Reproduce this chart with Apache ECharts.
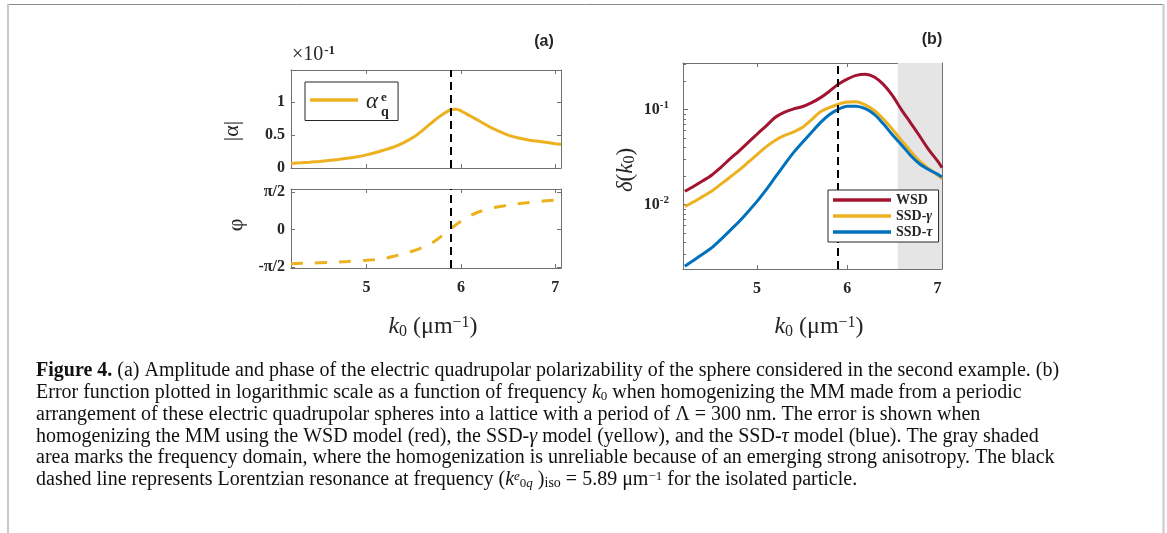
<!DOCTYPE html>
<html>
<head>
<meta charset="utf-8">
<script src="https://cdn.jsdelivr.net/npm/echarts@6/dist/echarts.min.js"></script>
<style>
html,body{margin:0;padding:0;background:#fff;}
#chart{width:1167px;height:533px;}
</style>
</head>
<body>
<div id="chart"></div>
<script>
// ---------- DATA ----------
// Panel (a): amplitude |alpha| (units of 1e-1) vs k0
const alphaK = [4.2,4.3,4.4,4.5,4.6,4.7,4.8,4.9,5.0,5.1,5.2,5.3,5.4,5.5,5.6,5.7,5.8,5.9,5.95,6.0,6.1,6.2,6.3,6.4,6.5,6.6,6.7,6.8,6.9,7.0,7.06];
const alphaAbs = [0.07,0.078,0.088,0.10,0.115,0.13,0.148,0.17,0.20,0.235,0.28,0.325,0.39,0.47,0.58,0.70,0.81,0.89,0.895,0.87,0.79,0.71,0.63,0.56,0.50,0.46,0.43,0.41,0.39,0.37,0.36];
// Panel (a): phase (rad) vs k0
const phaseK = [4.2,4.4,4.6,4.8,5.0,5.1,5.2,5.3,5.4,5.5,5.6,5.7,5.8,5.9,6.0,6.1,6.2,6.3,6.4,6.5,6.6,6.7,6.8,6.9,7.0,7.06];
const phase = [-1.437,-1.414,-1.382,-1.346,-1.296,-1.264,-1.210,-1.115,-1.013,-0.895,-0.746,-0.550,-0.267,0.055,0.346,0.581,0.754,0.880,0.958,1.021,1.076,1.123,1.162,1.202,1.233,1.249];
// Panel (b): error delta(k0)
const errK = [4.2,4.3,4.4,4.5,4.6,4.7,4.8,4.9,5.0,5.1,5.2,5.3,5.4,5.5,5.6,5.7,5.8,5.9,6.0,6.1,6.2,6.3,6.4,6.5,6.6,6.7,6.8,6.9,7.0,7.05];
const wsd = [0.0138,0.0156,0.0178,0.0205,0.0247,0.0302,0.0366,0.0449,0.055,0.0671,0.0824,0.0933,0.101,0.107,0.1175,0.1327,0.155,0.1845,0.209,0.229,0.2355,0.22,0.184,0.141,0.100,0.073,0.053,0.0382,0.0288,0.0245];
const ssdGamma = [0.00955,0.0107,0.0122,0.0139,0.0164,0.0194,0.023,0.0278,0.0335,0.0405,0.0473,0.0531,0.0578,0.0646,0.0776,0.0944,0.1047,0.1138,0.120,0.121,0.112,0.0977,0.0794,0.0621,0.0475,0.0367,0.0288,0.024,0.0204,0.0188];
const ssdTau = [0.00224,0.0026,0.00302,0.00352,0.0043,0.00533,0.0066,0.0084,0.0108,0.0143,0.0193,0.026,0.0348,0.0447,0.0569,0.0724,0.0881,0.1007,0.1084,0.1084,0.102,0.0891,0.0708,0.0543,0.0427,0.0331,0.0269,0.0234,0.0209,0.0195];
const seriesNames = ['WSD','SSD-γ','SSD-τ'];
const resonanceK = 5.89;
const unreliableStart = 6.56;
const xTicks = [5,6,7];
const alphaTicks = [0,0.5,1];
const phaseTicks = [-Math.PI/2, 0, Math.PI/2];
const logTicks = [0.01, 0.1];
const logMinorTicks = [0.003,0.004,0.005,0.006,0.007,0.008,0.009,0.02,0.03,0.04,0.05,0.06,0.07,0.08,0.09,0.2,0.3];

// ---------- STYLE ----------
const SERIF = 'Liberation Serif';
const AX = '#707070';
const TXT = '#262626';
const YEL = '#EDB120', RED = '#A2142F', BLU = '#0072BD';

const chart = echarts.init(document.getElementById('chart'), null, {renderer:'canvas'});

function xAxis(grid, min, max, pos, labels) {
  return {
    type:'value', gridIndex:grid, min:min, max:max, position:pos,
    axisLine:{show:true, onZero:false, lineStyle:{color:AX, width:1}},
    axisTick:{show:true, inside:true, length:4, customValues:xTicks, lineStyle:{color:AX}},
    axisLabel:{show:labels, customValues:xTicks, margin:12, color:TXT, fontFamily:SERIF, fontWeight:'bold', fontSize:16},
    splitLine:{show:false}
  };
}
const tickLbl = {color:TXT, fontFamily:SERIF, fontWeight:'bold', fontSize:16};

const option = {
  animation:false,
  backgroundColor:'#fff',
  grid:[
    {left:291, top:70, width:270, height:98},
    {left:291, top:189, width:270, height:79},
    {left:683, top:63, width:259, height:206}
  ],
  xAxis:[
    xAxis(0, 4.2, 7.06, 'bottom', false),
    xAxis(0, 4.2, 7.06, 'top', false),
    xAxis(1, 4.2, 7.06, 'bottom', true),
    xAxis(1, 4.2, 7.06, 'top', false),
    xAxis(2, 4.18, 7.05, 'bottom', true),
    xAxis(2, 4.18, 7.05, 'top', false)
  ],
  yAxis:[
    {type:'value', gridIndex:0, min:0, max:1.49, position:'left',
     axisLine:{show:true, lineStyle:{color:AX}},
     axisTick:{show:true, inside:true, length:4, customValues:alphaTicks, lineStyle:{color:AX}},
     axisLabel:Object.assign({customValues:alphaTicks, margin:6, formatter:v=>String(v)}, tickLbl),
     splitLine:{show:false}},
    {type:'value', gridIndex:0, min:0, max:1.49, position:'right',
     axisLine:{show:true, lineStyle:{color:AX}},
     axisTick:{show:true, inside:true, length:4, customValues:alphaTicks, lineStyle:{color:AX}},
     axisLabel:{show:false}, splitLine:{show:false}},
    {type:'value', gridIndex:1, min:-1.62, max:1.70, position:'left',
     axisLine:{show:true, lineStyle:{color:AX}},
     axisTick:{show:true, inside:true, length:4, customValues:phaseTicks, lineStyle:{color:AX}},
     axisLabel:Object.assign({customValues:phaseTicks, margin:6,
       formatter:v=> Math.abs(v)<1e-9 ? '0' : (v>0 ? 'π/2' : '-π/2')}, tickLbl),
     splitLine:{show:false}},
    {type:'value', gridIndex:1, min:-1.62, max:1.70, position:'right',
     axisLine:{show:true, lineStyle:{color:AX}},
     axisTick:{show:true, inside:true, length:4, customValues:phaseTicks, lineStyle:{color:AX}},
     axisLabel:{show:false}, splitLine:{show:false}},
    {type:'log', logBase:10, gridIndex:2, min:0.0021, max:0.309, position:'left',
     axisLine:{show:true, lineStyle:{color:AX}},
     axisTick:{show:true, inside:true, length:5, customValues:logTicks, lineStyle:{color:AX}},
     axisLabel:Object.assign({customValues:logTicks, margin:14,
       formatter:v=> '10{s|' + Math.round(Math.log10(v)) + '}',
       rich:{s:{fontFamily:SERIF, fontWeight:'bold', fontSize:11, color:TXT, verticalAlign:'top', padding:[0,0,8,0]}}}, tickLbl),
     splitLine:{show:false}},
    {type:'log', logBase:10, gridIndex:2, min:0.0021, max:0.309, position:'right',
     axisLine:{show:true, lineStyle:{color:AX}},
     axisTick:{show:true, inside:true, length:5, customValues:logTicks, lineStyle:{color:AX}},
     axisLabel:{show:false}, splitLine:{show:false}},
    {type:'log', logBase:10, gridIndex:2, min:0.0021, max:0.309, position:'left',
     axisLine:{show:false},
     axisTick:{show:true, inside:true, length:3, customValues:logMinorTicks, lineStyle:{color:AX}},
     axisLabel:{show:false}, splitLine:{show:false}},
    {type:'log', logBase:10, gridIndex:2, min:0.0021, max:0.309, position:'right',
     axisLine:{show:false},
     axisTick:{show:true, inside:true, length:3, customValues:logMinorTicks, lineStyle:{color:AX}},
     axisLabel:{show:false}, splitLine:{show:false}}
  ],
  legend:[
    {data:seriesNames, orient:'vertical', left:828, top:190, icon:'rect', itemWidth:58, itemHeight:3.5, itemGap:2,
     padding:[3,6,3,5], borderColor:'#262626', borderWidth:1, backgroundColor:'#fff', borderRadius:0,
     textStyle:{fontFamily:SERIF, fontWeight:'bold', fontSize:14, color:TXT, lineHeight:14,
       rich:{g:{fontFamily:SERIF, fontWeight:'bold', fontStyle:'italic', fontSize:14, lineHeight:14, color:TXT}}},
     formatter:n=> n==='WSD' ? 'WSD' : 'SSD-{g|' + n.slice(4) + '}',
     selectedMode:false, z:10},
    {data:['α'], orient:'vertical', left:305, top:82, icon:'rect', itemWidth:48, itemHeight:3.5,
     padding:[7,20,7,5], borderColor:'#262626', borderWidth:1, backgroundColor:'#fff', borderRadius:0,
     textStyle:{fontFamily:SERIF, fontStyle:'italic', fontSize:22, color:TXT, lineHeight:22,
       rich:{a:{fontFamily:SERIF, fontStyle:'italic', fontSize:23, color:TXT, padding:[4,0,0,3]}}},
     formatter:'{a|α}', selectedMode:false, z:10}
  ],
  series:[
    {name:'α', type:'line', xAxisIndex:0, yAxisIndex:0, data:alphaK.map((k,i)=>[k, alphaAbs[i]]),
     showSymbol:false, symbol:'none', smooth:0.3, lineStyle:{color:YEL, width:3}, itemStyle:{color:YEL}, silent:true,
     markLine:{silent:true, symbol:['none','none'], label:{show:false},
       lineStyle:{color:'#000', type:[8,5], width:2}, data:[{xAxis:resonanceK}]}},
    {name:'φ', type:'line', xAxisIndex:2, yAxisIndex:2, data:phaseK.map((k,i)=>[k, phase[i]]),
     showSymbol:false, symbol:'none', smooth:0.3, lineStyle:{color:YEL, width:3, type:[12,12]}, itemStyle:{color:YEL}, silent:true,
     markLine:{silent:true, symbol:['none','none'], label:{show:false},
       lineStyle:{color:'#000', type:[8,5], width:2}, data:[{xAxis:resonanceK}]}},
    {name:'WSD', type:'line', xAxisIndex:4, yAxisIndex:4, data:errK.map((k,i)=>[k, wsd[i]]),
     showSymbol:false, symbol:'none', smooth:0.3, lineStyle:{color:RED, width:3}, itemStyle:{color:RED}, silent:true,
     markArea:{silent:true, itemStyle:{color:'#e5e5e5'}, data:[[{xAxis:unreliableStart},{xAxis:7.05}]]}},
    {name:'SSD-γ', type:'line', xAxisIndex:4, yAxisIndex:4, data:errK.map((k,i)=>[k, ssdGamma[i]]),
     showSymbol:false, symbol:'none', smooth:0.3, lineStyle:{color:YEL, width:3}, itemStyle:{color:YEL}, silent:true},
    {name:'SSD-τ', type:'line', xAxisIndex:4, yAxisIndex:4, data:errK.map((k,i)=>[k, ssdTau[i]]),
     showSymbol:false, symbol:'none', smooth:0.3, lineStyle:{color:BLU, width:3}, itemStyle:{color:BLU}, silent:true},
    {name:'resonance', type:'line', xAxisIndex:4, yAxisIndex:4, data:[], silent:true,
     markLine:{silent:true, symbol:['none','none'], label:{show:false},
       lineStyle:{color:'#000', type:[8,5], width:2}, data:[{xAxis:resonanceK}]}}
  ],
  graphic:[]
};

// ---------- TEXT (titles, labels, caption) ----------
const G = option.graphic;
function txt(x, y, text, style, extra) {
  G.push(Object.assign({type:'text', x:x, y:y, silent:true, z:20,
    style:Object.assign({text:text, fill:TXT, fontFamily:SERIF, fontSize:16, align:'left', verticalAlign:'middle'}, style)}, extra||{}));
}
// frame
G.push({type:'line', silent:true, shape:{x1:7, y1:4.5, x2:1164, y2:4.5}, style:{stroke:'#8a8a8a', lineWidth:1}});
G.push({type:'line', silent:true, shape:{x1:8, y1:4, x2:8, y2:533}, style:{stroke:'#c8c8c8', lineWidth:2}});
G.push({type:'line', silent:true, shape:{x1:1163.5, y1:4, x2:1163.5, y2:533}, style:{stroke:'#c8c8c8', lineWidth:2}});

// panel letters
txt(544, 42, '(a)', {fontFamily:'Liberation Sans', fontWeight:'bold', fontSize:16, align:'center'});
txt(932, 40, '(b)', {fontFamily:'Liberation Sans', fontWeight:'bold', fontSize:16, align:'center'});
// exponent
txt(292, 55, '×10{s|-1}', {fontSize:20, rich:{s:{fontFamily:SERIF, fontWeight:'bold', fontSize:13, fill:TXT, verticalAlign:'top', padding:[0,0,9,1]}}});
// legend (a) super/subscript
txt(381, 97.5, 'e', {fontWeight:'bold', fontSize:13});
txt(381, 112.5, 'q', {fontWeight:'bold', fontSize:14});
// y axis titles
txt(232, 131, '|α|', {fontSize:22, align:'center'}, {rotation:Math.PI/2});
txt(236, 225, 'φ', {fontSize:22, align:'center'}, {rotation:Math.PI/2});
txt(626, 170, '{i|δ}({i|k}{sub|0})', {fontSize:23, align:'center',
  rich:{i:{fontFamily:SERIF, fontStyle:'italic', fontSize:23, fill:TXT}, sub:{fontFamily:SERIF, fontSize:16, fill:TXT, verticalAlign:'bottom'}}}, {rotation:Math.PI/2});
// x axis titles
const xTitleRich = {i:{fontFamily:SERIF, fontStyle:'italic', fontSize:24, fill:TXT},
  sub:{fontFamily:SERIF, fontSize:16, fill:TXT, verticalAlign:'bottom', padding:[6,0,0,0]},
  sup:{fontFamily:SERIF, fontSize:16, fill:TXT, verticalAlign:'top', padding:[0,0,9,0]}};
txt(433, 327, '{i|k}{sub|0} (μm{sup|−1})', {fontSize:24, align:'center', rich:xTitleRich});
txt(819, 327, '{i|k}{sub|0} (μm{sup|−1})', {fontSize:24, align:'center', rich:xTitleRich});

// caption
const CF = 20;
const capRich = {
  b:{fontFamily:SERIF, fontWeight:'bold', fontSize:CF, fill:'#111'},
  i:{fontFamily:SERIF, fontStyle:'italic', fontSize:CF, fill:'#111'},
  sub:{fontFamily:SERIF, fontSize:13, fill:'#111', verticalAlign:'bottom'},
  isub:{fontFamily:SERIF, fontStyle:'italic', fontSize:13, fill:'#111', verticalAlign:'bottom'},
  isup:{fontFamily:SERIF, fontStyle:'italic', fontSize:13, fill:'#111', verticalAlign:'top'},
  sup:{fontFamily:SERIF, fontSize:13, fill:'#111', verticalAlign:'top'},
  sm:{fontFamily:SERIF, fontSize:14, fill:'#111', verticalAlign:'bottom'}
};
const captionLines = [
  '{b|Figure 4.} (a) Amplitude and phase of the electric quadrupolar polarizability of the sphere considered in the second example. (b)',
  'Error function plotted in logarithmic scale as a function of frequency {i|k}{sub|0} when homogenizing the MM made from a periodic',
  'arrangement of these electric quadrupolar spheres into a lattice with a period of Λ = 300 nm. The error is shown when',
  'homogenizing the MM using the WSD model (red), the SSD-{i|γ} model (yellow), and the SSD-{i|τ} model (blue). The gray shaded',
  'area marks the frequency domain, where the homogenization is unreliable because of an emerging strong anisotropy. The black',
  'dashed line represents Lorentzian resonance at frequency ({i|k}{isup|e}{sub|0}{isub|q} ){sm|iso} = 5.89 μm{sup|−1} for the isolated particle.'
];
const capY = [371, 393, 415, 436.5, 458, 480];
captionLines.forEach((l, i) => txt(36, capY[i], l, {fontSize:CF, fill:'#111', rich:capRich}));

chart.setOption(option);
</script>
</body>
</html>
